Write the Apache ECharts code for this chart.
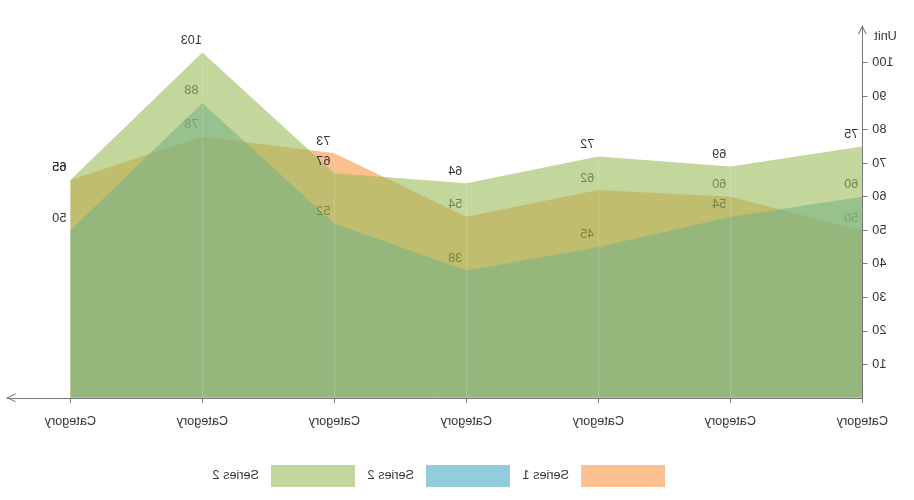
<!DOCTYPE html>
<html>
<head>
<meta charset="utf-8">
<script src="https://cdn.jsdelivr.net/npm/echarts@6/dist/echarts.min.js"></script>
<style>
html,body{margin:0;padding:0;background:#fff;}
#chart{width:914px;height:500px;transform:scaleX(-1);}
</style>
</head>
<body>
<div id="chart"></div>
<script>
// ---- data ----
const categories = ['Category','Category','Category','Category','Category','Category','Category'];
const seriesNames = ['Series 1','Series 2','Series 2'];
const series1 = [50, 60, 62, 54, 73, 78, 65];
const series2 = [60, 54, 45, 38, 52, 88, 50];
const series3 = [75, 69, 72, 64, 67, 103, 65];
const yTickValues = [10, 20, 30, 40, 50, 60, 70, 80, 90, 100];
const yAxisName = 'Unit';

// ---- styles ----
const colors = ['rgba(247,150,70,0.6)', 'rgba(75,172,198,0.6)', 'rgba(155,187,89,0.6)'];
const FONT = "'Liberation Sans', Arial, sans-serif";
const FS = 12.67;
const axisColor = '#777';
const arrowPath = 'path://M0,10 L5,0 L10,10 L8.8,10 L5,2.4 L1.2,10 Z';
const xIdx = categories.map((c, i) => i);
const allSeries = [series1, series2, series3];
const internalNames = ['s1', 's2', 's3'];

const chart = echarts.init(document.getElementById('chart'));
chart.setOption({
  animation: false,
  textStyle: { fontFamily: FONT },
  grid: { left: 51.7, right: 7, top: 25.8, bottom: 102.2, outerBoundsMode: 'none' },
  legend: {
    left: 249, top: 465, padding: 0,
    itemWidth: 84, itemHeight: 22, itemGap: 12.6,
    icon: 'rect',
    data: internalNames,
    formatter: n => seriesNames[internalNames.indexOf(n)],
    textStyle: { color: '#333', fontSize: FS, fontFamily: FONT, padding: [0, 0, 0, 7] },
    selectedMode: false
  },
  xAxis: {
    type: 'value', min: 0, max: 6.48, z: 5,
    axisLine: { show: true, lineStyle: { color: axisColor, width: 1 },
      symbol: ['none', arrowPath], symbolSize: [9, 9], symbolOffset: [0, -4] },
    axisTick: { show: true, length: 5, customValues: xIdx, lineStyle: { color: axisColor } },
    axisLabel: { customValues: xIdx, formatter: v => categories[Math.round(v)], margin: 17,
      color: '#333', fontSize: FS, fontFamily: FONT },
    splitLine: { show: true, lineStyle: { color: 'rgba(255,255,255,0.15)', width: 1 } }
  },
  yAxis: {
    type: 'value', min: 0, max: 111, z: 5,
    name: yAxisName, nameLocation: 'end', nameGap: -11,
    nameTextStyle: { align: 'right', verticalAlign: 'middle', padding: [0, 12, 0, 0],
      color: '#333', fontSize: FS, fontFamily: FONT },
    axisLine: { show: true, lineStyle: { color: axisColor, width: 1 },
      symbol: ['none', arrowPath], symbolSize: [9, 9], symbolOffset: [0, -4] },
    axisTick: { show: true, length: 5, customValues: yTickValues, lineStyle: { color: axisColor } },
    axisLabel: { customValues: yTickValues, margin: 10, color: '#333', fontSize: FS, fontFamily: FONT },
    splitLine: { show: false }
  },
  series: allSeries.map((vals, si) => ({
    type: 'line',
    name: internalNames[si],
    z: 2 + si,
    data: vals.map((v, i) => [xIdx[i], v]),
    symbol: 'circle', symbolSize: 0, showSymbol: true,
    itemStyle: { color: colors[si] },
    lineStyle: { width: 0, opacity: 0 },
    areaStyle: { color: colors[si], opacity: 1 },
    label: { show: true, position: 'top', distance: 5.5, offset: [11, 0],
      color: '#333', fontSize: FS, fontFamily: FONT },
    emphasis: { disabled: true }
  }))
});
</script>
</body>
</html>
